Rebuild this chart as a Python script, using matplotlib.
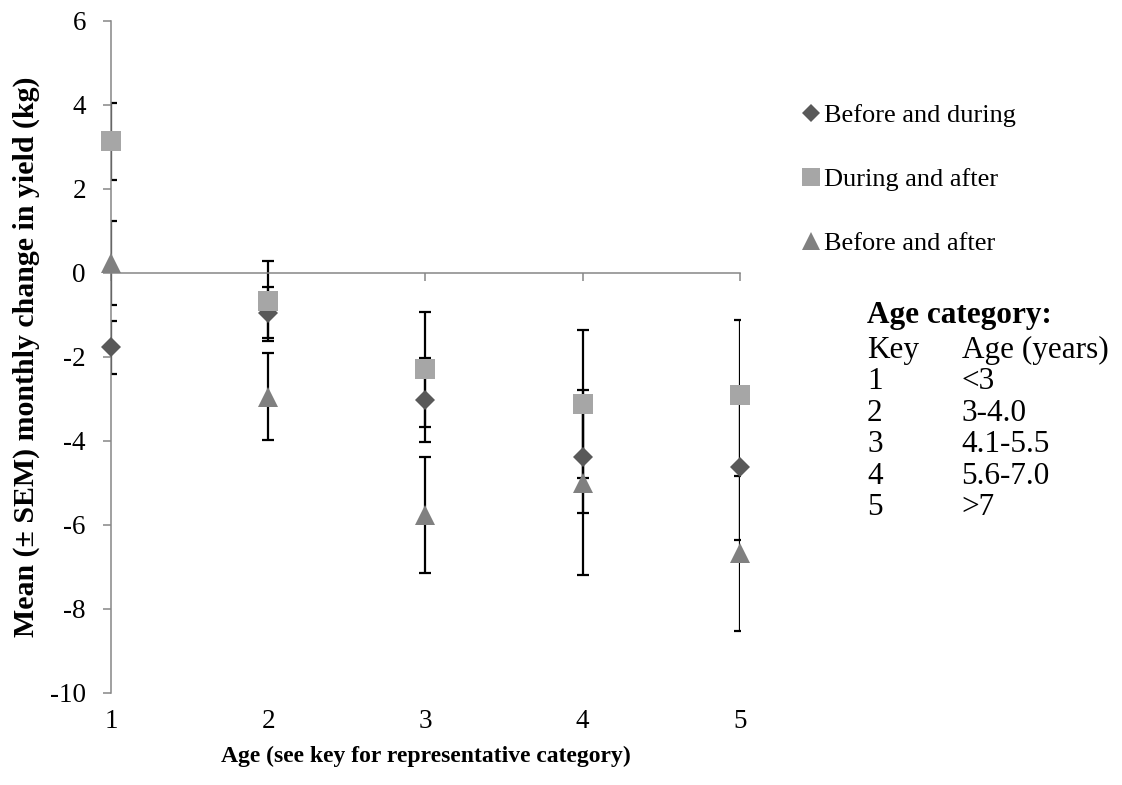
import matplotlib
matplotlib.use('Agg')
import matplotlib.pyplot as plt
from matplotlib.lines import Line2D

plt.rcParams['font.family'] = ['Liberation Serif', 'DejaVu Serif']

# Age category (x) and the three comparisons, mean and SEM
age = [1, 2, 3, 4, 5]
before_during = [-1.78, -0.95, -3.03, -4.38, -4.62]
before_during_sem = [0.64, 0.60, 1.00, 1.33, 1.74]
during_after = [3.13, -0.67, -2.30, -3.13, -2.90]
during_after_sem = [0.92, 0.95, 1.37, 1.76, 1.77]
before_after = [0.24, -2.95, -5.77, -5.00, -6.68]
before_after_sem = [1.00, 1.03, 1.37, 2.20, 1.84]

series_names = ['Before and during', 'During and after', 'Before and after']
key_ids = ['1', '2', '3', '4', '5']
key_ranges = ['<3', '3-4.0', '4.1-5.5', '5.6-7.0', '>7']
yticks = [-10, -8, -6, -4, -2, 0, 2, 4, 6]

axis_grey = '#868686'
styles = [('D', 10.5, '#595959'), ('s', 14.5, '#A6A6A6'), ('^', 14.5, '#808080')]
means = [before_during, during_after, before_after]
sems = [before_during_sem, during_after_sem, before_after_sem]

fig = plt.figure(figsize=(11.22, 7.85), dpi=100)
ax = fig.add_axes([0.0989, 0.1176, 0.5606, 0.856])

# error bars first, markers on top
for m, s in zip(means, sems):
    ax.errorbar(age, m, yerr=s, fmt='none', ecolor='black', elinewidth=1.6,
                capsize=4.5, capthick=1.6, zorder=2)
for (mk, ms, col), m in zip(styles, means):
    ax.plot(age, m, linestyle='none', marker=mk, markersize=ms, color=col,
            markeredgewidth=0, zorder=3, clip_on=False)

ax.set_xlim(1, 5)
ax.set_ylim(-10, 6)
ax.set_yticks(yticks)
ax.set_yticklabels([str(t) for t in yticks])

for side in ['top', 'right']:
    ax.spines[side].set_visible(False)
ax.spines['left'].set_color(axis_grey)
ax.spines['left'].set_linewidth(1.1)
ax.spines['bottom'].set_position(('data', 0))
ax.spines['bottom'].set_color(axis_grey)
ax.spines['bottom'].set_linewidth(1.1)
ax.tick_params(axis='y', direction='out', length=6, width=1.1, color=axis_grey,
               labelsize=19.5, pad=12)
ax.set_xticks(age)
ax.tick_params(axis='x', direction='out', length=6, width=1.1, color=axis_grey,
               labelbottom=False)

# category labels stay at the bottom of the plot area
sec = ax.secondary_xaxis(0.0)
sec.set_xticks(age)
sec.set_xticklabels([str(a) for a in age])
sec.spines['bottom'].set_visible(False)
sec.tick_params(axis='x', length=0, labelsize=19.5, pad=12)

ax.set_ylabel('Mean (± SEM) monthly change in yield (kg)', fontsize=21.5,
              fontweight='bold', labelpad=7)
sec.set_xlabel('Age (see key for representative category)', fontsize=17,
               fontweight='bold', labelpad=8)

handles = [Line2D([], [], linestyle='none', marker=mk, markersize=ms * 0.88,
                  color=col, markeredgewidth=0)
           for mk, ms, col in styles]
fig.legend(handles, series_names, loc='upper left', bbox_to_anchor=(0.715, 0.868),
           frameon=False, fontsize=19, handlelength=0.7, handletextpad=0.11,
           labelspacing=1.53, borderpad=0, borderaxespad=0)

# age category key
fig.text(0.7727, 0.5987, 'Age category:', fontsize=22.5, fontweight='bold', va='center')
fig.text(0.7727, 0.554, 'Key', fontsize=22.5, va='center')
fig.text(0.857, 0.554, 'Age (years)', fontsize=22.5, va='center')
row_y = 0.554 - 0.0401
for k, r in zip(key_ids, key_ranges):
    fig.text(0.7727, row_y, k, fontsize=22.5, va='center')
    fig.text(0.857, row_y, r, fontsize=22.5, va='center')
    row_y -= 0.0401

fig.savefig('out.png', dpi=100)
